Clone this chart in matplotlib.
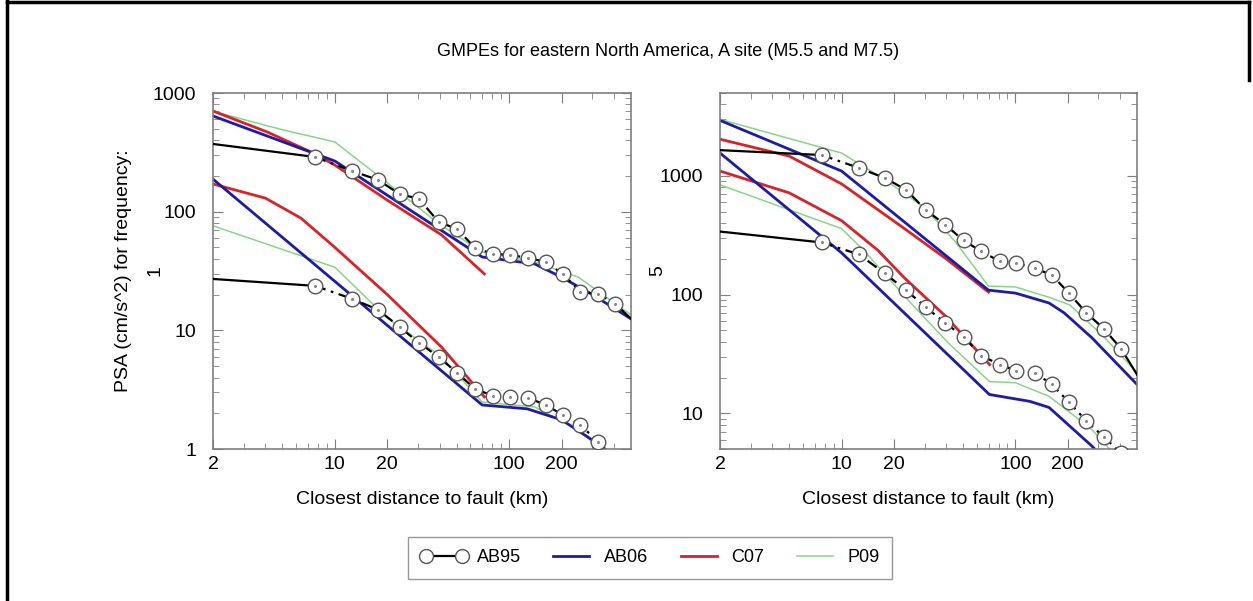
import matplotlib.pyplot as plt
from matplotlib.lines import Line2D
from matplotlib.ticker import FixedLocator, LogLocator, NullFormatter

plt.rcParams['font.family'] = ['Liberation Sans', 'DejaVu Sans']

# AB95 circles: common distances (km)
ab95_x = [7.7, 12.6, 17.7, 23.5, 30.4, 39.4, 50.3, 63.7, 81, 101, 129, 162, 203, 256, 323, 405]

# ---- 1 Hz panel ----
f1_ab95_hi = [289, 220, 185, 141, 128, 81.9, 71.5, 49.5, 44.0, 43.2, 40.7, 37.7, 29.9, 21.1, 20.3, 16.8]
f1_ab95_hi_ends = [372, 12.5]
f1_ab95_lo = [23.7, 18.4, 14.9, 10.7, 7.84, 5.97, 4.38, 3.21, 2.80, 2.75, 2.69, 2.35, 1.94, 1.60, 1.15, 0.78]
f1_ab95_lo_ends = [27.1, 0.5]

f1_ab06_hi_x = [2, 10, 70, 140, 200, 300, 500]
f1_ab06_hi_y = [640, 267, 41.5, 36.3, 28, 20, 12.5]
f1_ab06_lo_x = [2, 70, 127, 200, 345, 500]
f1_ab06_lo_y = [188, 2.35, 2.18, 1.76, 1.04, 0.6]

f1_c07_hi_x = [2, 4.1, 7.3, 10, 20, 41, 72]
f1_c07_hi_y = [705, 469, 318, 247, 125, 63.6, 29.9]
f1_c07_lo_x = [2, 4, 6.4, 10, 20, 41, 72]
f1_c07_lo_y = [171, 130, 88, 50, 20, 7.2, 2.75]

f1_p09_hi_x = [2, 5, 10, 20, 40, 70, 140, 250, 500]
f1_p09_hi_y = [700, 490, 387, 175, 78, 45.7, 37.7, 28, 13.5]
f1_p09_lo_x = [2, 10, 20, 41, 70, 140, 250, 500]
f1_p09_lo_y = [76, 34, 12.7, 5.97, 2.49, 2.26, 1.45, 0.6]

# ---- 5 Hz panel ----
f5_ab95_hi = [1500, 1167, 962, 764, 519, 389, 286, 231, 191, 184, 167, 146, 103, 70, 51.4, 35]
f5_ab95_hi_ends = [1650, 21.2]
f5_ab95_lo = [275, 218, 151, 109, 78.5, 57.8, 44.1, 30.6, 25.7, 22.9, 22.0, 17.5, 12.4, 8.6, 6.3, 4.6]
f5_ab95_lo_ends = [340, 3.0]

f5_ab06_hi_x = [2, 10, 70, 100, 156, 191, 275, 500]
f5_ab06_hi_y = [2940, 1100, 109, 103, 85, 70, 43.3, 17.5]
f5_ab06_lo_x = [2, 10, 70.8, 121, 156, 275, 400]
f5_ab06_lo_y = [1560, 225, 14.4, 12.6, 11.2, 5.3, 3.0]

f5_c07_hi_x = [2, 5, 10, 23, 40, 70]
f5_c07_hi_y = [2040, 1470, 857, 360, 200, 105]
f5_c07_lo_x = [2, 5, 10, 16.2, 22.8, 40, 71]
f5_c07_lo_y = [1100, 720, 420, 236, 140, 65, 25.7]

f5_p09_hi_x = [2, 10, 17.5, 30, 45, 70, 100, 156, 205, 323, 500]
f5_p09_hi_y = [3000, 1560, 944, 540, 280, 118, 116, 95, 82, 44, 22]
f5_p09_lo_x = [2, 10, 13.4, 25, 41, 71, 100, 156, 275, 400]
f5_p09_lo_y = [841, 360, 236, 85, 39.3, 18.5, 18.1, 13.9, 7.3, 4.0]

BLUE = '#1c1ca8'
RED = '#d8232a'
GREEN = '#8ad48a'
GRAY = '#7f7f7f'


def ab95(ax, vals, ends):
    ax.plot([2, ab95_x[0]], [ends[0], vals[0]], color='black', lw=1.6, zorder=4)
    ax.plot([ab95_x[-1], 500], [vals[-1], ends[1]], color='black', lw=1.6, zorder=4)
    ax.plot(ab95_x, vals, color='black', lw=1.6, dashes=(5, 2.5, 1.2, 2.5), zorder=4,
            marker='o', ms=10.5, mfc='white', mec='#555555', mew=1.0)
    # small dot in the middle of each circle
    ax.plot(ab95_x, vals, ls='none', marker='o', ms=1.2, color='#888888', zorder=5)


fig = plt.figure(figsize=(12.53, 6.01), dpi=100)
axL = fig.add_axes([213/1253, 1-449/601, 418/1253, 356/601])
axR = fig.add_axes([720/1253, 1-449/601, 417/1253, 356/601])

for ax in (axL, axR):
    ax.set_xscale('log')
    ax.set_yscale('log')
    ax.set_xlim(2, 500)
    ax.set_xticks([2, 10, 20, 100, 200])
    ax.set_xticklabels(['2', '10', '20', '100', '200'])
    ax.xaxis.set_minor_locator(FixedLocator([3, 4, 5, 6, 7, 8, 9, 30, 40, 50, 60, 70, 80, 90, 300, 400]))
    ax.xaxis.set_minor_formatter(NullFormatter())
    ax.yaxis.set_minor_locator(LogLocator(base=10, subs=range(2, 10)))
    ax.yaxis.set_minor_formatter(NullFormatter())
    ax.tick_params(which='both', direction='in', top=True, right=True,
                   color=GRAY, labelsize=14)
    ax.tick_params(axis='x', which='both', pad=5)
    ax.tick_params(axis='y', which='both', pad=12)
    ax.tick_params(which='major', length=7)
    ax.tick_params(which='minor', length=4)
    for s in ax.spines.values():
        s.set_color(GRAY)
        s.set_linewidth(1.2)
    ax.set_xlabel('Closest distance to fault (km)', fontsize=14, labelpad=13)

axL.set_ylim(1, 1000)
axL.set_yticks([1, 10, 100, 1000])
axL.set_yticklabels(['1', '10', '100', '1000'])
axR.set_ylim(5, 5000)
axR.set_yticks([10, 100, 1000])
axR.set_yticklabels(['10', '100', '1000'])

# 1 Hz
axL.plot(f1_p09_hi_x, f1_p09_hi_y, color=GREEN, lw=1.1)
axL.plot(f1_p09_lo_x, f1_p09_lo_y, color=GREEN, lw=1.1)
axL.plot(f1_c07_hi_x, f1_c07_hi_y, color=RED, lw=2)
axL.plot(f1_c07_lo_x, f1_c07_lo_y, color=RED, lw=2)
axL.plot(f1_ab06_hi_x, f1_ab06_hi_y, color=BLUE, lw=2)
axL.plot(f1_ab06_lo_x, f1_ab06_lo_y, color=BLUE, lw=2)
ab95(axL, f1_ab95_hi, f1_ab95_hi_ends)
ab95(axL, f1_ab95_lo, f1_ab95_lo_ends)

# 5 Hz
axR.plot(f5_p09_hi_x, f5_p09_hi_y, color=GREEN, lw=1.1)
axR.plot(f5_p09_lo_x, f5_p09_lo_y, color=GREEN, lw=1.1)
axR.plot(f5_c07_hi_x, f5_c07_hi_y, color=RED, lw=2)
axR.plot(f5_c07_lo_x, f5_c07_lo_y, color=RED, lw=2)
axR.plot(f5_ab06_hi_x, f5_ab06_hi_y, color=BLUE, lw=2)
axR.plot(f5_ab06_lo_x, f5_ab06_lo_y, color=BLUE, lw=2)
ab95(axR, f5_ab95_hi, f5_ab95_hi_ends)
ab95(axR, f5_ab95_lo, f5_ab95_lo_ends)

axL.text(-58/418, 0.5, '1', transform=axL.transAxes, rotation=90, ha='center', va='center', fontsize=14)
axR.text(-62/417, 0.5, '5', transform=axR.transAxes, rotation=90, ha='center', va='center', fontsize=14)
fig.text(124/1253, 1-271/601, 'PSA (cm/s^2) for frequency:', rotation=90, ha='center', va='center', fontsize=14)

fig.text(668/1253, 1-52/601, 'GMPEs for eastern North America, A site (M5.5 and M7.5)',
         ha='center', va='center', fontsize=13)

handles = [
    Line2D([], [], color='black', lw=1.6, marker='o', ms=10, mfc='white', mec='#555555'),
    Line2D([], [], color=BLUE, lw=2),
    Line2D([], [], color=RED, lw=2),
    Line2D([], [], color=GREEN, lw=1.1),
]
fig.legend(handles, ['AB95', 'AB06', 'C07', 'P09'], loc='center',
           bbox_to_anchor=(650/1253, 1-558/601), ncol=4, numpoints=2, fontsize=13,
           frameon=True, fancybox=False, edgecolor=GRAY, handlelength=2.6,
           columnspacing=1.5, handletextpad=0.5, borderpad=0.7)

# page frame (left side runs full height, right side only near the top)
fig.add_artist(Line2D([7/1253, 7/1253], [0, 1], color='black', lw=2.5))
fig.add_artist(Line2D([7/1253, 1249/1253], [1-2/601, 1-2/601], color='black', lw=2.5))
fig.add_artist(Line2D([1249/1253, 1249/1253], [1-2/601, 1-80/601], color='black', lw=2.5))

fig.savefig('out.png', dpi=100)
